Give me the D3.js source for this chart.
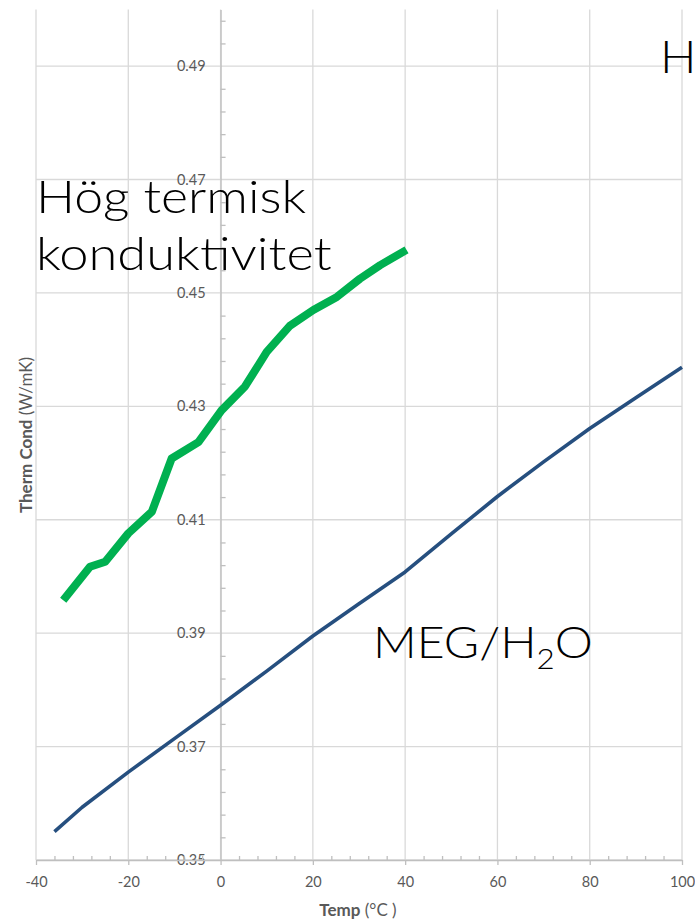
<!DOCTYPE html>
<html>
<head>
<meta charset="utf-8">
<script src="https://cdn.jsdelivr.net/npm/d3@7"></script>
<style>
body{margin:0;background:#fff;}
text{font-family:Lato,"Open Sans",sans-serif;}
</style>
</head>
<body>
<svg id="chart"></svg>
<script>
//MEG/H2O line
var megTemp = [-36,-30,-20,-10,0,10,20,30,40,50,60,70,80,90,100]
var megCond = [0.355,0.3593,0.3655,0.3714,0.3773,0.3833,0.3895,0.3952,0.4008,0.4075,0.4141,0.4202,0.4261,0.4315,0.4369]

//high conductivity line
var hogTemp = [-34.1,-28.3,-25,-20,-14.9,-10.6,-4.8,0.2,5.3,10,15,20.1,25.2,30.2,34.6,40.3]
var hogCond = [0.3958,0.4017,0.4026,0.4076,0.4114,0.4208,0.4237,0.4293,0.4335,0.4396,0.4442,0.4470,0.4493,0.4525,0.4549,0.4576]

var xTicks = [-40,-20,0,20,40,60,80,100]
var yTicks = [0.35,0.37,0.39,0.41,0.43,0.45,0.47,0.49]
var xMinor = [-36,-32,-28,-24,-16,-12,-8,-4,4,8,12,16,24,28,32,36,44,48,52,56,64,68,72,76,84,88,92,96]
var yMinor = [0.354,0.358,0.362,0.366,0.374,0.378,0.382,0.386,0.394,0.398,0.402,0.406,0.414,0.418,0.422,0.426,
              0.434,0.438,0.442,0.446,0.454,0.458,0.462,0.466,0.474,0.478,0.482,0.486,0.494,0.498]

var screen = {width:695, height:922}
var plot = {left:36, right:682, top:9.4, bottom:860}

var svg = d3.select("#chart")
    .attr("width",screen.width)
    .attr("height",screen.height)

var xScale = d3.scaleLinear()
    .domain([-40,100])
    .range([plot.left,plot.right])

var yScale = d3.scaleLinear()
    .domain([0.35,0.50])
    .range([plot.bottom,plot.top])

//gridlines
var grid = svg.append("g").classed("grid",true)

grid.selectAll(".vgrid")
    .data(xTicks)
    .enter()
    .append("line")
    .attr("x1",function(d){return xScale(d)})
    .attr("x2",function(d){return xScale(d)})
    .attr("y1",plot.top)
    .attr("y2",plot.bottom)
    .attr("stroke","#d9d9d9")
    .attr("stroke-width",1.3)

grid.selectAll(".hgrid")
    .data(yTicks)
    .enter()
    .append("line")
    .attr("x1",plot.left)
    .attr("x2",plot.right)
    .attr("y1",function(d){return yScale(d)})
    .attr("y2",function(d){return yScale(d)})
    .attr("stroke","#d9d9d9")
    .attr("stroke-width",1.3)

//axes
var styleAxis = function(g)
{
    g.selectAll("path").attr("stroke","#bfbfbf").attr("stroke-width",1.3)
    g.selectAll("line").attr("stroke","#bfbfbf").attr("stroke-width",1.3)
    g.selectAll("text")
        .attr("fill","#595959")
        .style("font-family","Lato, sans-serif")
        .style("font-size","14.5px")
}

svg.append("g")
    .attr("transform","translate("+xScale(0)+",0)")
    .call(d3.axisLeft(yScale).tickValues(yTicks).tickSize(0).tickSizeOuter(0).tickPadding(15)
        .tickFormat(d3.format(".2f")))
    .call(styleAxis)

svg.append("g")
    .attr("transform","translate("+xScale(0)+",0)")
    .call(d3.axisRight(yScale).tickValues(yMinor).tickSize(5).tickSizeOuter(0).tickFormat(""))
    .call(styleAxis)
    .select(".domain").remove()

//plain hyphen for negatives, like the original
svg.append("g")
    .attr("transform","translate(0,"+yScale(0.35)+")")
    .call(d3.axisBottom(xScale).tickValues(xTicks).tickSize(5).tickSizeOuter(0).tickPadding(12)
        .tickFormat(function(d){return String(d)}))
    .call(styleAxis)

svg.append("g")
    .attr("transform","translate(0,"+yScale(0.35)+")")
    .call(d3.axisTop(xScale).tickValues(xMinor).tickSize(4).tickSizeOuter(0).tickFormat(""))
    .call(styleAxis)
    .select(".domain").remove()

//axis titles
var xTitle = svg.append("text")
    .attr("x",358)
    .attr("y",916)
    .attr("text-anchor","middle")
    .attr("fill","#595959")
    .style("font-size","17px")
xTitle.append("tspan").style("font-weight","bold").text("Temp")
xTitle.append("tspan").text(" (°C )")

var yTitle = svg.append("text")
    .attr("transform","translate(32,435) rotate(-90)")
    .attr("text-anchor","middle")
    .attr("fill","#595959")
    .style("font-size","17px")
yTitle.append("tspan").style("font-weight","bold").text("Therm Cond")
yTitle.append("tspan").text(" (W/mK)")

//lines
var line = d3.line()
    .x(function(d){return xScale(d[0])})
    .y(function(d){return yScale(d[1])})

svg.append("path")
    .datum(d3.zip(megTemp,megCond))
    .attr("d",line)
    .attr("fill","none")
    .attr("stroke","#264f7f")
    .attr("stroke-width",3.6)
    .attr("stroke-linejoin","round")

svg.append("path")
    .datum(d3.zip(hogTemp,hogCond))
    .attr("d",line)
    .attr("fill","none")
    .attr("stroke","#00b050")
    .attr("stroke-width",8)
    .attr("stroke-linejoin","round")

//annotations, stretched a bit to look like the wide original font
var note = svg.append("g")
    .style("font-weight","300")
    .attr("fill","#000")

note.append("text").attr("transform","translate(36,213) scale(1.125,1)").style("font-size","46px").text("Hög termisk")
note.append("text").attr("transform","translate(36,270) scale(1.14,1)").style("font-size","46px").text("konduktivitet")
note.append("text").attr("transform","translate(660,73) scale(1.05,1)").style("font-size","46px").text("H")

var meg = note.append("text").attr("transform","translate(373,658) scale(1.12,1)").style("font-size","43px")
meg.append("tspan").text("MEG/H")
meg.append("tspan").attr("dy",11).style("font-size","28px").text("2")
meg.append("tspan").attr("dy",-11).text("O")
</script>
</body>
</html>
